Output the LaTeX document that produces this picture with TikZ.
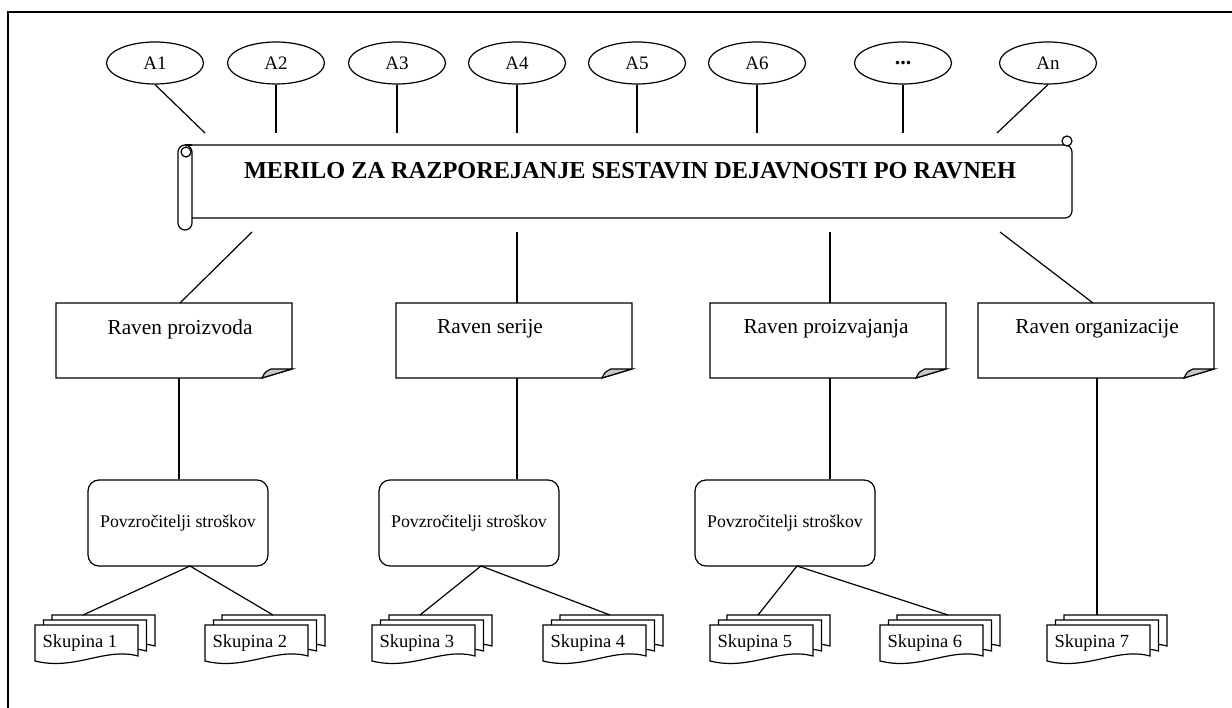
\documentclass[tikz,border=0pt]{standalone}
\usepackage{fontspec}
\setmainfont{Liberation Serif}
\usetikzlibrary{shapes.geometric}

% one level box with a folded bottom-right corner: name, left x, top y, text x, text
\newcommand\levelnote[5]{%
  \draw[fill=white] (#2,#3) -- ++(236,0) -- ++(0,66) -- ++(-30,9) -- ++(-206,0) -- cycle;
  \draw[fill=black!22] (#2+206,#3+75) .. controls (#2+209,#3+69) .. (#2+215,#3+66) -- (#2+236,#3+66) -- cycle;
  \node[leveltext] (#1) at (#4,#3+26) {#5};
}

% one document page with a wavy bottom edge, top-left corner at (#1,#2)
\newcommand\docpage[2]{%
  \draw[fill=white] (#1,#2) -- ++(103,0) -- ++(0,31)
    .. controls (#1+70,#2+22) and (#1+40,#2+46) .. (#1,#2+36) -- cycle;
}

% a stack of three pages: name, left x, top y of the front page, text
\newcommand\pagestack[4]{%
  \docpage{#2+17}{#3-10}
  \docpage{#2+8.5}{#3-5}
  \docpage{#2}{#3}
  \node[grouptext, anchor=west] (#1) at (#2+7,#3+18) {#4};
}

\begin{document}
\begin{tikzpicture}[x=1pt, y=-1pt, line width=1.2pt,
  actor/.style={ellipse, draw, minimum width=97, minimum height=42, inner sep=0,
    font=\fontsize{19}{19}\selectfont},
  leveltext/.style={inner sep=0, font=\fontsize{21.3}{21.3}\selectfont},
  driver/.style={draw, fill=white, rounded corners=11, minimum width=180,
    minimum height=86, inner sep=0, font=\fontsize{17.8}{17.8}\selectfont},
  grouptext/.style={inner sep=0, font=\fontsize{18.5}{18.5}\selectfont},
  titletext/.style={inner sep=0, font=\fontsize{24.3}{24.3}\selectfont\bfseries}]

\useasboundingbox (0,0) rectangle (1232,708);
% outer frame, open at the right and bottom
\draw (8,720) -- (8,12) -- (1240,12);

% activities
\node[actor] (a1) at (155,63) {A1};
\node[actor] (a2) at (276,63) {A2};
\node[actor] (a3) at (397,63) {A3};
\node[actor] (a4) at (517,63) {A4};
\node[actor] (a5) at (637,63) {A5};
\node[actor] (a6) at (757,63) {A6};
\node[actor] (a7) at (903,63) {\fontsize{22}{22}\selectfont\textbf{...}};
\node[actor] (an) at (1048,63) {An};

% scroll banner
\draw[fill=white, rounded corners=7] (186,145) -- (1072,145) -- (1072,218) -- (192,218);
\draw[fill=white] (1067,141) circle[radius=5];
\draw[fill=white, rounded corners=7] (178,145) rectangle (192,230);
\draw (185,145) -- (192,145);
\draw[fill=white] (186,152) circle[radius=5];
\node[titletext] (banner) at (630,171) {MERILO ZA RAZPOREJANJE SESTAVIN DEJAVNOSTI PO RAVNEH};

% free ends of the connectors around the banner
\coordinate (t1) at (205,133);
\coordinate (t2) at (276,133);
\coordinate (t3) at (397,133);
\coordinate (t4) at (517,133);
\coordinate (t5) at (637,133);
\coordinate (t6) at (757,133);
\coordinate (t7) at (903,133);
\coordinate (tn) at (997,133);
\coordinate (u1) at (252,232);
\coordinate (u2) at (517,232);
\coordinate (u3) at (830,232);
\coordinate (u4) at (1000,232);

\draw (a1.south) -- (t1);
\draw (a2) -- (t2);
\draw (a3) -- (t3);
\draw (a4) -- (t4);
\draw (a5) -- (t5);
\draw (a6) -- (t6);
\draw (a7) -- (t7);
\draw (an.south) -- (tn);

% levels
\levelnote{l1}{56}{303}{180}{Raven proizvoda}
\levelnote{l2}{396}{303}{490}{Raven serije}
\levelnote{l3}{710}{303}{826}{Raven proizvajanja}
\levelnote{l4}{978}{303}{1097}{Raven organizacije}

\coordinate (l1top) at (180,303);
\coordinate (l2top) at (517,303);
\coordinate (l3top) at (830,303);
\coordinate (l4top) at (1093,303);
\draw (u1) -- (l1top);
\draw (u2) -- (l2top);
\draw (u3) -- (l3top);
\draw (u4) -- (l4top);

% cost drivers
\node[driver] (d1) at (178,523) {Povzročitelji stroškov};
\node[driver] (d2) at (469,523) {Povzročitelji stroškov};
\node[driver] (d3) at (785,523) {Povzročitelji stroškov};

\coordinate (l1bot) at (179,378);
\coordinate (l2bot) at (517,378);
\coordinate (l3bot) at (830,378);
\coordinate (l4bot) at (1097,378);
\draw (l1bot) -- (d1.north -| l1bot);
\draw (l2bot) -- (d2.north -| l2bot);
\draw (l3bot) -- (d3.north -| l3bot);

% groups
\pagestack{s1}{35}{625}{Skupina 1}
\pagestack{s2}{205}{625}{Skupina 2}
\pagestack{s3}{372}{625}{Skupina 3}
\pagestack{s4}{543}{625}{Skupina 4}
\pagestack{s5}{710}{625}{Skupina 5}
\pagestack{s6}{880}{625}{Skupina 6}
\pagestack{s7}{1047}{625}{Skupina 7}

\coordinate (g1) at (83,615);
\coordinate (g2) at (273,615);
\coordinate (g3) at (420,615);
\coordinate (g4) at (610,615);
\coordinate (g5) at (758,615);
\coordinate (g6) at (948,615);
\coordinate (g7) at (1097,615);
\coordinate (d1b) at (190,566);
\coordinate (d2b) at (481,566);
\coordinate (d3b) at (797,566);

\draw (d1b) -- (g1);
\draw (d1b) -- (g2);
\draw (d2b) -- (g3);
\draw (d2b) -- (g4);
\draw (d3b) -- (g5);
\draw (d3b) -- (g6);
\draw (l4bot) -- (g7);
\end{tikzpicture}
\end{document}
